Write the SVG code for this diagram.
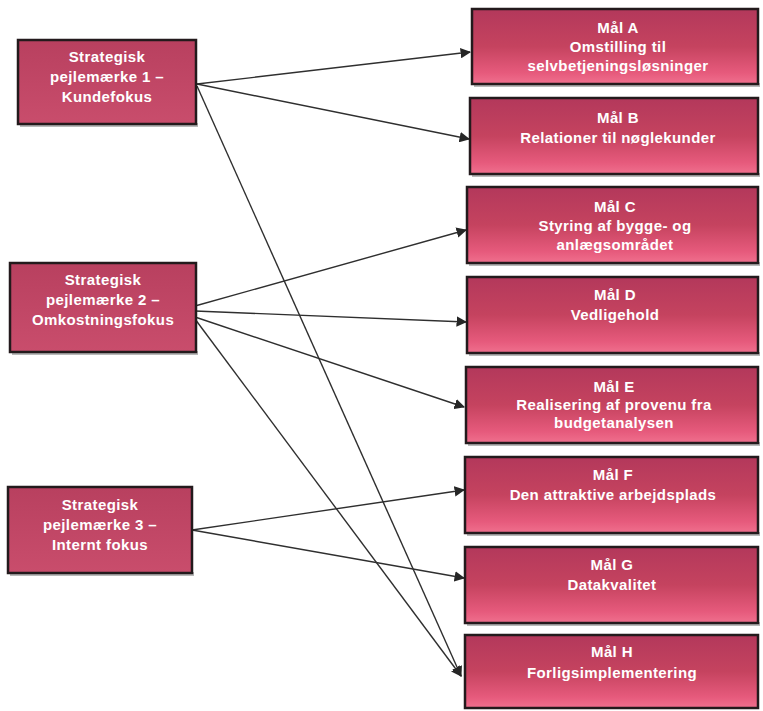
<svg xmlns="http://www.w3.org/2000/svg" width="763" height="711" viewBox="0 0 763 711">
<defs>
<linearGradient id="gR" x1="0" y1="0" x2="0" y2="1">
<stop offset="0" stop-color="#b3385b"/>
<stop offset="0.5" stop-color="#c5435f"/>
<stop offset="0.85" stop-color="#e65a7c"/>
<stop offset="1" stop-color="#f0708e"/>
</linearGradient>
<linearGradient id="gL" x1="0" y1="0" x2="0" y2="1">
<stop offset="0" stop-color="#b8405f"/>
<stop offset="1" stop-color="#c94d6c"/>
</linearGradient>
<marker id="arr" viewBox="0 0 10 10" refX="9" refY="5" markerWidth="7.5" markerHeight="7.5" markerUnits="strokeWidth" orient="auto">
<path d="M0,0 L10,5 L0,10 z" fill="#262626"/>
</marker>
<style>
.sh{fill:#8a8a8a;opacity:0.6}
.bl{fill:url(#gL);stroke:#231a1c;stroke-width:2.5}
.br{fill:url(#gR);stroke:#231a1c;stroke-width:2.5}
.t{font-family:"Liberation Sans",Arial,sans-serif;font-weight:bold;font-size:15px;letter-spacing:0.4px;fill:#ffffff;text-anchor:middle}
.c{stroke:#2f2f2f;stroke-width:1.4;fill:none}
.ca{stroke:#2f2f2f;stroke-width:1.4;fill:none;marker-end:url(#arr)}
</style>
</defs>
<rect width="763" height="711" fill="#ffffff"/>

<g id="connectors">
<line class="ca" x1="197" y1="84" x2="470" y2="52"/>
<line class="ca" x1="197" y1="84" x2="469" y2="139"/>
<line class="ca" x1="197" y1="86" x2="461" y2="676"/>
<line class="ca" x1="195" y1="306" x2="466" y2="230"/>
<line class="ca" x1="195" y1="311" x2="466" y2="322"/>
<line class="ca" x1="195" y1="317" x2="464" y2="407"/>
<line class="ca" x1="195" y1="319" x2="461" y2="676"/>
<line class="ca" x1="192" y1="530" x2="464" y2="490"/>
<line class="ca" x1="192" y1="530" x2="464" y2="578"/>
</g>

<g id="p1">
<rect class="sh" x="20" y="123" width="178" height="4"/>
<rect class="bl" x="18" y="40" width="178" height="84"/>
<text class="t" x="107" y="62">Strategisk</text>
<text class="t" x="107" y="82">pejlemærke 1 –</text>
<text class="t" x="107" y="102">Kundefokus</text>
</g>
<g id="p2">
<rect class="sh" x="12" y="351" width="186" height="4"/>
<rect class="bl" x="10" y="263" width="186" height="89"/>
<text class="t" x="103" y="285">Strategisk</text>
<text class="t" x="103" y="305">pejlemærke 2 –</text>
<text class="t" x="103" y="325">Omkostningsfokus</text>
</g>
<g id="p3">
<rect class="sh" x="10" y="572" width="184" height="4"/>
<rect class="bl" x="8" y="487" width="184" height="86"/>
<text class="t" x="100" y="510">Strategisk</text>
<text class="t" x="100" y="530">pejlemærke 3 –</text>
<text class="t" x="100" y="550">Internt fokus</text>
</g>

<g id="mA">
<rect class="sh" x="474" y="83" width="286" height="4"/>
<rect class="br" x="472" y="9" width="286" height="75"/>
<text class="t" x="618" y="33">Mål A</text>
<text class="t" x="618" y="52">Omstilling til</text>
<text class="t" x="618" y="71">selvbetjeningsløsninger</text>
</g>
<g id="mB">
<rect class="sh" x="472" y="173" width="288" height="4"/>
<rect class="br" x="470" y="98" width="288" height="76"/>
<text class="t" x="618" y="123">Mål B</text>
<text class="t" x="618" y="143">Relationer til nøglekunder</text>
</g>
<g id="mC">
<rect class="sh" x="469" y="262" width="291" height="4"/>
<rect class="br" x="467" y="187" width="291" height="76"/>
<text class="t" x="615" y="212">Mål C</text>
<text class="t" x="615" y="231">Styring af bygge- og</text>
<text class="t" x="615" y="250">anlægsområdet</text>
</g>
<g id="mD">
<rect class="sh" x="469" y="352" width="291" height="4"/>
<rect class="br" x="467" y="277" width="291" height="76"/>
<text class="t" x="615" y="300">Mål D</text>
<text class="t" x="615" y="320">Vedligehold</text>
</g>
<g id="mE">
<rect class="sh" x="468" y="442" width="292" height="4"/>
<rect class="br" x="466" y="367" width="292" height="76"/>
<text class="t" x="614" y="392">Mål E</text>
<text class="t" x="614" y="410">Realisering af provenu fra</text>
<text class="t" x="614" y="428">budgetanalysen</text>
</g>
<g id="mF">
<rect class="sh" x="467" y="532" width="293" height="4"/>
<rect class="br" x="465" y="457" width="293" height="76"/>
<text class="t" x="613" y="480">Mål F</text>
<text class="t" x="613" y="500">Den attraktive arbejdsplads</text>
</g>
<g id="mG">
<rect class="sh" x="467" y="622" width="293" height="4"/>
<rect class="br" x="465" y="547" width="293" height="76"/>
<text class="t" x="612" y="570">Mål G</text>
<text class="t" x="612" y="590">Datakvalitet</text>
</g>
<g id="mH">
<rect class="br" x="465" y="635" width="293" height="73"/>
<text class="t" x="612" y="657">Mål H</text>
<text class="t" x="612" y="678">Forligsimplementering</text>
</g>
</svg>
